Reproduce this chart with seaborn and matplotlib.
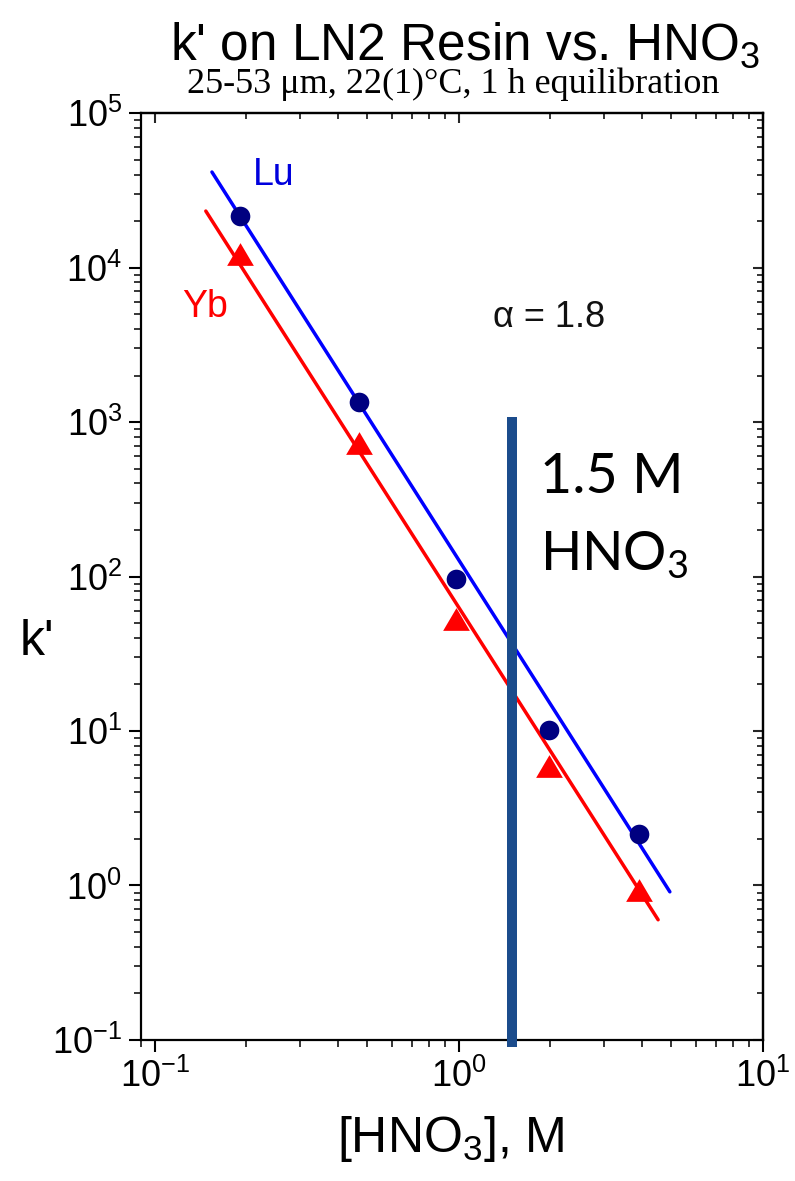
import matplotlib
matplotlib.use("Agg")
import matplotlib.pyplot as plt
from matplotlib.markers import MarkerStyle
from matplotlib.ticker import LogLocator, NullFormatter
import seaborn as sns

# Capacity factor k' on LN2 resin versus nitric acid concentration
hno3_lu = [0.19, 0.47, 0.98, 1.98, 3.9]
k_lu = [21500, 1350, 96, 10.1, 2.15]
hno3_yb = [0.19, 0.47, 0.98, 1.98, 3.9]
k_yb = [12200, 730, 53, 5.9, 0.93]

# Fitted lines (end points)
fit_lu_x = [0.154, 4.94]
fit_lu_y = [41500, 0.91]
fit_yb_x = [0.147, 4.52]
fit_yb_y = [23200, 0.60]

# Working acid concentration marker
work_hno3 = 1.5
work_k_range = [0.09, 1080]

title = "k' on LN2 Resin vs. HNO$_3$"
subtitle = "25-53 \u03bcm, 22(1)\u00b0C, 1 h equilibration"
x_label = "[HNO$_3$], M"
y_label = "k'"

sns.set_theme(style="ticks")
plt.rcParams["font.family"] = ["Liberation Sans", "DejaVu Sans"]
plt.rcParams["mathtext.default"] = "regular"

fig = plt.figure(figsize=(7.95, 11.81), dpi=100)
ax = fig.add_axes([0.1774, 0.1194, 0.7823, 0.7849])
ax.set_xscale("log")
ax.set_yscale("log")

sns.lineplot(x=fit_lu_x, y=fit_lu_y, color="#0000ff", lw=2.5,
             estimator=None, sort=False, ax=ax, zorder=2)
sns.lineplot(x=fit_yb_x, y=fit_yb_y, color="#ff0000", lw=2.5,
             estimator=None, sort=False, ax=ax, zorder=2)

sns.scatterplot(x=hno3_lu, y=k_lu, marker="o", s=200, color="#000080",
                edgecolor="#000080", linewidth=0, ax=ax, zorder=3)
tri = MarkerStyle([(0, 0.85), (-1, -0.85), (1, -0.85), (0, 0.85)])
sns.scatterplot(x=hno3_yb, y=k_yb, marker=tri, s=370, color="#ff0000",
                edgecolor="#ff0000", linewidth=0, ax=ax, zorder=3)

ax.vlines(work_hno3, work_k_range[0], work_k_range[1], color="#1b4c8c",
          lw=7.2, zorder=6, clip_on=False)

ax.set_xlim(0.09, 10)
ax.set_ylim(0.1, 1e5)
ax.set_xlabel("")
ax.set_ylabel("")

# Bottom / left ticks point outward, with labels
for axis in (ax.xaxis, ax.yaxis):
    axis.set_major_locator(LogLocator(base=10, numticks=12))
    axis.set_minor_locator(LogLocator(base=10, subs=range(2, 10), numticks=12))
    axis.set_minor_formatter(NullFormatter())
ax.tick_params(which="major", direction="out", length=8.6, width=1.5,
               labelsize=26, colors="black", pad=5)
ax.tick_params(which="minor", direction="out", length=5, width=1.3)

for side in ax.spines.values():
    side.set_linewidth(1.6)
    side.set_color("black")

# Top / right ticks point inward, unlabeled
sec_x = ax.secondary_xaxis("top")
sec_y = ax.secondary_yaxis("right")
for sec, axis in ((sec_x, sec_x.xaxis), (sec_y, sec_y.yaxis)):
    axis.set_major_locator(LogLocator(base=10, numticks=12))
    axis.set_minor_locator(LogLocator(base=10, subs=range(2, 10), numticks=12))
    axis.set_major_formatter(NullFormatter())
    axis.set_minor_formatter(NullFormatter())
    sec.tick_params(which="major", direction="in", length=7, width=1.5)
    sec.tick_params(which="minor", direction="in", length=4.5, width=1.3)
    for side in sec.spines.values():
        side.set_linewidth(1.6)
        side.set_color("black")

# Series and annotation labels
ax.text(0.21, 34000, "Lu", color="#0000dd", fontsize=27, ha="left", va="baseline")
ax.text(0.1227, 4790, "Yb", color="#ff0000", fontsize=27, ha="left", va="baseline")
ax.text(1.29, 4120, "\u03b1 = 1.8", color="#111111", fontsize=26, ha="left", va="baseline")
ax.text(1.847, 347, "1.5 M", color="black", fontsize=40, family=["Lato", "DejaVu Sans"],
        ha="left", va="baseline", zorder=7)
ax.text(1.847, 110, "HNO$_3$", color="black", fontsize=39, family=["Lato", "DejaVu Sans"],
        ha="left", va="baseline", zorder=7)

fig.text(0.585, 0.9492, title, fontsize=37, ha="center", va="baseline", color="black")
fig.text(0.570, 0.9212, subtitle, fontsize=26, ha="center", va="baseline", color="black",
         family=["Liberation Serif", "DejaVu Serif"])
fig.text(0.567, 0.0246, x_label, fontsize=36, ha="center", va="baseline", color="black")
fig.text(0.047, 0.4454, y_label, fontsize=36, ha="center", va="baseline", color="black")

fig.savefig("out.png", dpi=100)
